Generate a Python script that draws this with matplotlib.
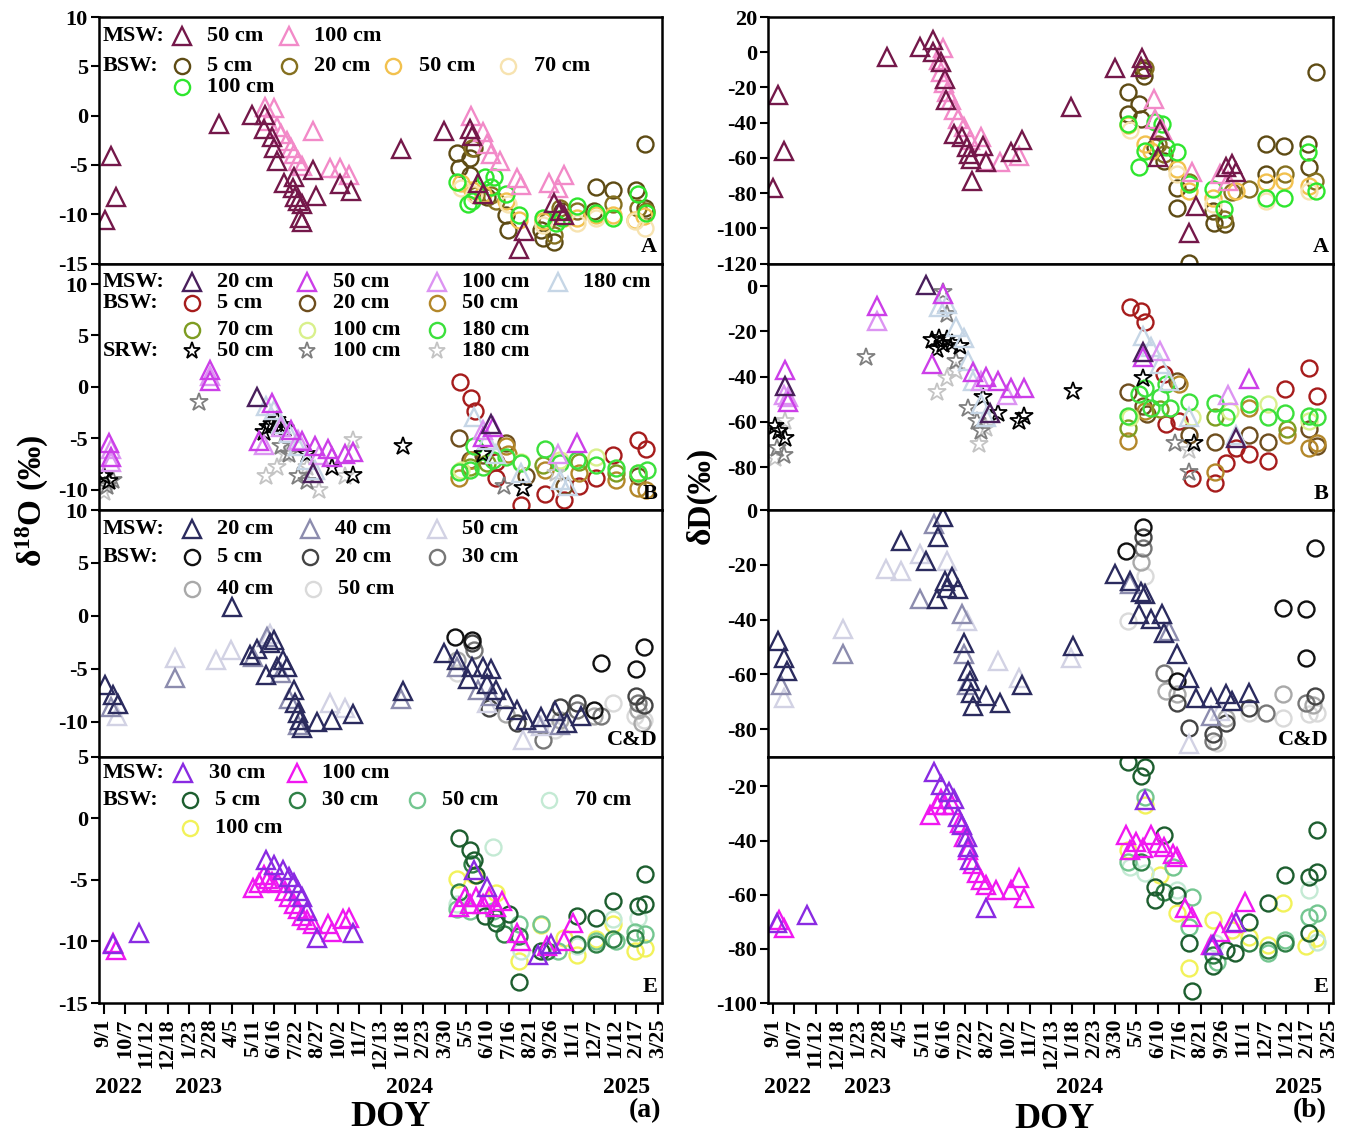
import matplotlib
matplotlib.use('Agg')
import matplotlib.pyplot as plt
import matplotlib.transforms as mtransforms
import numpy as np

plt.rcParams['font.family'] = ['Liberation Serif', 'DejaVu Serif']
plt.rcParams['font.weight'] = 'bold'
plt.rcParams['mathtext.fontset'] = 'custom'
plt.rcParams['mathtext.rm'] = 'Liberation Serif:bold'
plt.rcParams['mathtext.it'] = 'Liberation Serif:bold'
plt.rcParams['mathtext.bf'] = 'Liberation Serif:bold'

# ---------------- axis labels ----------------
tick_labels = ['9/1', '10/7', '11/12', '12/18', '1/23', '2/28', '4/5', '5/11', '6/16', '7/22',
               '8/27', '10/2', '11/7', '12/13', '1/18', '2/23', '3/30', '5/5', '6/10', '7/16',
               '8/21', '9/26', '11/1', '12/7', '1/12', '2/17', '3/25']
tick_step_days = 36          # tick spacing (days since 2022-09-01)
years = ['2022', '2023', '2024', '2025']
year_days = [25, 160, 517, 884]
panel_names = ['A', 'B', 'C&D', 'E']

# ---------------- data: (days since 2022-09-01, value) ----------------
# Panel A, d18O
a_o_msw50 = ([3, 12, 20, 194, 250, 272, 270, 284, 288, 292, 305, 322, 319, 324, 328, 335, 332, 335, 354, 358,
              400, 417, 502, 575, 618, 622, 633, 640, 702, 710, 760, 771, 778],
             [-10.6, -4.1, -8.2, -0.8, 0.1, 0.1, -1.4, -2.2, -3.3, -4.6, -6.8, -6.2, -7.3, -8.2, -8.7, -9.0, -10.4,
              -10.8, -5.5, -8.1, -6.9, -7.6, -3.4, -1.6, -1.4, -2.1, -6.8, -7.9, -13.5, -11.7, -8.9, -9.7, -10.1])
a_o_msw100 = ([272, 288, 277, 292, 299, 310, 317, 322, 328, 335, 353, 382, 400, 415, 620, 640, 647, 655, 669, 698,
               705, 753, 767, 778],
              [0.9, 0.8, -0.5, -1.2, -1.9, -2.6, -3.3, -3.9, -4.6, -5.1, -1.6, -5.3, -5.3, -6.0, 0.0, -1.7, -2.9,
               -3.9, -4.6, -6.3, -7.0, -6.8, -7.3, -6.0])
a_o_bsw5 = ([597, 600, 618, 618, 626, 647, 680, 683, 738, 742, 760, 774, 832, 860, 900, 914, 914, 829],
            [-3.8, -5.3, -6.0, -4.3, -3.3, -8.2, -10.1, -11.6, -11.6, -12.4, -12.8, -9.7, -7.2, -7.5, -7.5, -2.9,
             -9.4, -9.7])
a_o_bsw20 = ([622, 629, 655, 662, 760, 749, 771, 800, 861, 902, 916],
             [-3.3, -8.0, -8.0, -8.7, -12.1, -10.7, -9.4, -9.7, -9.0, -9.4, -9.7])
a_o_bsw50 = ([604, 622, 640, 680, 702, 742, 778, 800, 832, 861, 898, 913],
             [-6.8, -7.5, -7.9, -8.7, -10.6, -10.7, -10.4, -10.4, -10.1, -10.1, -10.6, -10.2])
a_o_bsw70 = ([604, 626, 683, 742, 800, 832, 898, 914],
             [-7.3, -7.9, -9.0, -11.1, -10.9, -10.4, -10.7, -11.4])
a_o_bsw100 = ([597, 615, 622, 644, 659, 655, 680, 702, 742, 764, 774, 800, 832, 861, 902, 916],
              [-6.7, -9.0, -8.7, -6.2, -6.2, -7.2, -7.9, -10.1, -10.4, -10.9, -10.4, -9.2, -9.9, -10.4, -7.9, -9.9])

# Panel A, dD
a_d_msw50 = ([0, 9, 18, 192, 247, 270, 270, 283, 290, 292, 304, 319, 326, 330, 333, 335, 354, 359, 401, 419,
              501, 576, 619, 621, 651, 648, 701, 712, 762, 773, 780],
             [-76.8, -24.4, -55.8, -2.5, 3.2, 7.0, 0.4, -5.3, -14.9, -27.2, -46.3, -48.2, -53.9, -57.7, -60.6,
              -73.0, -53.0, -62.5, -56.8, -50.0, -31.0, -9.1, -8.2, -3.4, -44.4, -59.6, -102.5, -87.2, -65.3,
              -63.4, -68.2])
a_d_msw100 = ([286, 279, 283, 288, 293, 299, 304, 311, 321, 331, 351, 358, 383, 415, 641, 644, 655, 705, 752, 766],
              [2.3, -4.4, -11.0, -17.7, -22.5, -27.2, -33.0, -37.7, -42.5, -50.0, -48.2, -61.5, -62.5, -58.7,
               -26.3, -37.7, -44.4, -68.2, -69.1, -73.0])
a_d_bsw5 = ([598, 598, 616, 619, 623, 625, 644, 658, 680, 681, 741, 742, 761, 701, 830, 860, 900, 914, 902, 830],
            [-22.5, -34.9, -29.1, -37.7, -10.0, -13.5, -53.9, -61.5, -76.8, -88.2, -90.1, -96.8, -97.7, -119.6,
             -52.0, -53.0, -52.0, -11.0, -65.3, -69.1])
a_d_bsw20 = ([626, 648, 658, 701, 759, 773, 802, 862, 912],
             [-9.1, -52.0, -57.7, -73.9, -94.9, -79.6, -77.7, -69.1, -73.0])
a_d_bsw50 = ([598, 626, 637, 680, 701, 741, 780, 830, 860, 902],
             [-41.5, -52.0, -55.8, -66.3, -78.7, -82.5, -78.7, -73.9, -73.0, -75.8])
a_d_bsw70 = ([601, 680, 741, 830, 902],
             [-44.4, -69.1, -86.3, -84.4, -78.7])
a_d_bsw100 = ([598, 616, 626, 644, 655, 662, 680, 701, 741, 760, 830, 860, 900, 914],
              [-40.5, -65.3, -55.8, -39.6, -40.5, -53.9, -56.8, -74.9, -77.7, -89.1, -82.5, -82.5, -56.8, -78.7])

# Panel B, d18O
b_o_msw20 = ([259, 353, 655], [-1.0, -8.4, -3.6])
b_o_msw50 = ([9, 12, 179, 179, 263, 284, 317, 335, 357, 379, 386, 408, 422, 640, 658, 800],
             [-5.5, -6.8, 1.6, 0.6, -5.3, -1.6, -4.2, -5.3, -5.8, -6.1, -6.8, -6.5, -6.3, -4.9, -3.9, -5.5])
b_o_msw100 = ([12, 12, 179, 270, 299, 328, 364, 640, 767],
              [-7.3, -6.1, 1.1, -5.7, -3.9, -5.2, -6.6, -4.2, -6.5])
b_o_msw180 = ([274, 288, 299, 313, 328, 343, 357, 626, 647, 662, 705, 771, 785],
              [-1.9, -2.3, -3.6, -4.5, -5.8, -7.1, -8.1, -2.9, -5.2, -6.5, -8.4, -9.1, -9.7])
b_o_bsw5 = ([602, 620, 627, 662, 662, 705, 745, 778, 803, 832, 861, 902, 916],
            [0.5, -1.1, -2.4, -7.3, -8.9, -11.5, -10.4, -11.0, -9.7, -8.9, -6.6, -5.2, -6.1])
b_o_bsw20 = ([600, 618, 640, 680, 713, 778, 902], [-5.0, -7.1, -6.6, -5.5, -8.7, -9.7, -8.7])
b_o_bsw50 = ([600, 622, 680, 683, 745, 803, 865, 902, 916],
             [-8.9, -7.1, -5.8, -6.5, -8.1, -8.4, -9.1, -9.9, -10.0])
b_o_bsw70 = ([618, 647, 742, 803, 865], [-7.8, -7.4, -7.6, -7.3, -8.4])
b_o_bsw100 = ([604, 705, 771, 832, 902], [-8.1, -7.3, -7.1, -6.8, -8.4])
b_o_bsw180 = ([600, 618, 626, 640, 658, 680, 705, 745, 771, 800, 832, 865, 902, 918],
              [-8.3, -8.1, -5.8, -7.8, -7.1, -6.8, -7.4, -6.1, -7.4, -7.1, -7.6, -7.9, -8.4, -8.1])
b_o_srw50 = ([1, 9, 270, 277, 284, 292, 299, 306, 343, 386, 422, 506, 640, 709],
             [-8.7, -9.2, -4.4, -3.9, -3.6, -3.2, -3.7, -4.0, -6.5, -7.8, -8.6, -5.8, -6.5, -9.9])
b_o_srw100 = ([5, 16, 161, 299, 313, 328, 343, 676], [-9.7, -9.1, -1.5, -5.8, -6.5, -8.7, -9.2, -9.7])
b_o_srw180 = ([1, 274, 292, 306, 343, 364, 422, 408, 764], [-10.2, -8.7, -7.8, -6.5, -7.8, -10.0, -5.2, -8.7, -8.4])

# Panel B, dD
b_d_msw20 = ([258, 21, 365, 623, 780], [0.3, -44, -56, -29, -67])
b_d_msw50 = ([21, 25, 175, 268, 286, 336, 358, 379, 401, 422, 623, 802],
             [-37, -51, -8.6, -34.5, -3.4, -38, -40, -42, -45, -45, -31.5, -41])
b_d_msw100 = ([18, 25, 175, 351, 394, 651, 766], [-48, -49, -15.3, -42, -48, -28.6, -48])
b_d_msw180 = ([279, 293, 308, 322, 329, 336, 351, 358, 623, 637, 651, 666, 701, 780],
              [-9.3, -7.9, -18, -22.7, -33, -42, -52, -58, -22, -27, -34.5, -42, -58, -65.6])
b_d_bsw5 = ([601, 619, 626, 659, 662, 684, 705, 744, 762, 802, 834, 862, 902, 916, 780],
            [-9.3, -10.8, -16, -39, -61, -59.7, -85, -87, -78, -74, -77.5, -45.6, -36, -48.6, -71.5])
b_d_bsw20 = ([598, 623, 630, 680, 701, 744, 802, 834, 902, 916],
             [-47, -53, -56.7, -42, -65.6, -69, -65.6, -69, -63, -70.8])
b_d_bsw50 = ([598, 626, 684, 744, 802, 866, 902, 916], [-68.6, -55, -43.4, -82, -53.8, -66, -71.5, -69.3])
b_d_bsw70 = ([598, 651, 744, 866], [-62.7, -54.5, -58, -63])
b_d_bsw100 = ([601, 705, 769, 834, 902], [-58, -58, -55, -52, -59.7])
b_d_bsw180 = ([598, 616, 626, 637, 651, 662, 669, 701, 744, 762, 802, 834, 862, 902, 916],
              [-57.5, -47.8, -45, -53.8, -49, -43.4, -53.8, -51, -51.6, -58, -52, -58, -56, -57.5, -58])
b_d_srw50 = ([4, 11, 21, 268, 279, 286, 293, 301, 315, 276, 354, 379, 415, 422, 505, 623, 709],
             [-62, -64, -67, -24, -22.7, -25.6, -23.4, -25, -26.4, -27.9, -49, -56, -59.7, -57.5, -46.4, -40.4,
              -69.3])
b_d_srw100 = ([7, 18, 157, 286, 293, 308, 329, 344, 351, 676, 701],
              [-71.6, -74.5, -31.5, -2.7, -12.3, -33, -53.8, -59.7, -64, -69.3, -82])
b_d_srw180 = ([4, 21, 276, 293, 308, 347, 358, 701], [-76, -59.7, -47, -40.4, -37.5, -70, -62.7, -72.3])

# Panel C&D, d18O
c_o_msw20 = ([3, 15, 25, 217, 248, 259, 274, 281, 288, 292, 303, 310, 321, 324, 328, 331, 335, 361, 386, 421,
              506, 575, 597, 615, 622, 640, 647, 655, 662, 680, 698, 713, 738, 763, 782, 807],
             [-6.5, -7.5, -8.3, 0.8, -3.7, -3.1, -5.6, -2.6, -2.3, -4.8, -4.2, -4.8, -7.0, -8.2, -9.2, -9.8,
              -10.6, -10.0, -9.8, -9.3, -7.1, -3.5, -4.2, -6.0, -4.8, -4.8, -6.4, -5.0, -7.0, -7.9, -8.9, -9.8,
              -9.6, -9.0, -10.1, -9.5])
c_o_msw40 = ([12, 121, 252, 276, 299, 313, 328, 502, 597, 633, 655, 734, 771],
             [-8.6, -5.9, -3.9, -2.0, -5.4, -7.9, -10.3, -7.9, -4.8, -7.0, -7.6, -10.1, -10.3])
c_o_msw50 = ([23, 121, 190, 215, 281, 383, 408, 647, 709, 738],
             [-9.5, -4.0, -4.2, -3.2, -1.7, -8.2, -8.7, -8.2, -11.7, -10.4])
c_o_bsw5 = ([593, 622, 840, 899, 912, 829], [-2.0, -2.3, -4.5, -5.0, -2.9, -8.9])
c_o_bsw20 = ([622, 651, 698, 771, 800, 899, 912], [-2.6, -8.7, -10.1, -8.6, -8.2, -7.6, -8.4])
c_o_bsw30 = ([626, 742, 800, 840, 902], [-3.2, -11.7, -8.9, -9.5, -8.2])
c_o_bsw40 = ([597, 680, 771, 829, 902, 909], [-4.2, -9.3, -9.8, -9.5, -8.9, -10.1])
c_o_bsw50 = ([597, 763, 800, 861, 898, 912], [-5.4, -10.8, -8.2, -8.2, -9.5, -9.8])

# Panel C&D, dD
c_d_msw20 = ([9, 18, 23, 215, 258, 276, 278, 286, 290, 293, 301, 311, 322, 328, 331, 333, 336, 358, 383, 419,
              505, 576, 601, 619, 626, 616, 637, 655, 658, 680, 701, 712, 737, 762, 773, 802],
             [-47.8, -53.9, -58.8, -11.2, -18.5, -32.6, -10, -2.7, -25.9, -28.3, -24.6, -28.9, -48.4, -58.8,
              -62.4, -66.7, -71.6, -67.9, -70.4, -63.7, -49.6, -23.4, -25.9, -30.1, -30.7, -38, -39.9, -38,
              -44.8, -52.7, -61.2, -68.5, -68.5, -67.3, -69.8, -66.7])
c_d_msw40 = ([14, 118, 247, 272, 319, 322, 326, 601, 666, 737],
             [-63.7, -52.7, -32.6, -5.1, -38, -52.7, -63.7, -27.1, -44.1, -75.2])
c_d_msw50 = ([18, 118, 190, 215, 247, 293, 326, 379, 415, 501, 701, 752],
             [-68.5, -43.5, -21.6, -22.2, -16.1, -18.5, -40.5, -55.1, -61.2, -53.9, -85.6, -73.4])
c_d_bsw5 = ([594, 623, 859, 898, 913, 898, 680], [-14.9, -6.3, -35.6, -36.2, -13.7, -53.9, -62.4])
c_d_bsw20 = ([623, 680, 701, 741, 762, 802, 913], [-10, -70.4, -79.5, -81.9, -77.7, -72.2, -67.9])
c_d_bsw30 = ([623, 658, 741, 830, 898], [-13.7, -59.4, -84.4, -74, -70.4])
c_d_bsw40 = ([619, 662, 680, 762, 859, 909], [-19.1, -66.1, -67.3, -75.8, -67.3, -71])
c_d_bsw50 = ([598, 626, 748, 802, 859, 902, 916], [-40.5, -24, -85, -74, -75.8, -74.6, -74])

# Panel E, d18O
e_o_msw30 = ([16, 60, 274, 288, 303, 313, 321, 328, 335, 343, 361, 422, 626, 647, 734, 756],
             [-10.2, -9.3, -3.4, -3.8, -4.2, -4.8, -5.3, -5.9, -6.4, -7.5, -9.7, -9.3, -4.2, -5.6, -11.1, -10.2])
e_o_msw100 = ([20, 16, 252, 263, 270, 277, 284, 295, 306, 313, 321, 328, 335, 343, 353, 379, 386, 404, 415, 600,
               611, 618, 629, 640, 651, 662, 673, 698, 705, 749, 778, 793],
              [-10.7, -10.1, -5.7, -5.3, -4.6, -4.9, -5.2, -5.3, -5.9, -6.4, -7.0, -7.4, -7.9, -8.3, -8.6, -8.6,
               -9.2, -8.2, -8.1, -7.2, -6.4, -7.0, -6.4, -7.0, -6.4, -7.2, -6.7, -9.3, -10.0, -10.4, -10.0, -8.5])
e_o_bsw5 = ([600, 618, 626, 629, 644, 662, 684, 702, 738, 800, 832, 861, 902, 914, 914],
            [-1.6, -2.6, -3.4, -4.6, -7.9, -8.5, -7.8, -13.3, -10.8, -7.9, -8.1, -6.7, -7.1, -7.0, -4.5])
e_o_bsw30 = ([600, 622, 662, 676, 702, 749, 800, 832, 861, 898],
             [-6.0, -3.7, -8.1, -9.4, -9.6, -10.8, -10.2, -10.2, -9.8, -9.7])
e_o_bsw50 = ([597, 618, 658, 702, 738, 767, 832, 865, 898, 914],
             [-7.4, -7.5, -7.5, -8.6, -8.6, -10.8, -10.0, -10.0, -9.2, -9.4])
e_o_bsw70 = ([597, 658, 705, 800, 861, 902], [-7.0, -2.3, -10.8, -10.4, -8.2, -8.1])
e_o_bsw100 = ([597, 626, 662, 702, 738, 778, 800, 832, 861, 898, 914],
              [-4.9, -4.6, -6.1, -11.6, -8.7, -9.7, -11.1, -9.8, -8.6, -10.8, -10.5])

# Panel E, dD
e_d_msw30 = ([7, 57, 272, 283, 297, 304, 311, 319, 326, 329, 331, 358, 626, 780, 741],
             [-70.6, -67.5, -14.7, -19.6, -22.1, -24.5, -31.3, -34.4, -38.7, -42.3, -47.2, -65, -25.2, -70, -78.5])
e_d_msw100 = ([11, 18, 265, 276, 283, 290, 301, 315, 322, 329, 336, 344, 351, 358, 376, 401, 415, 422, 594, 601,
               612, 623, 637, 648, 659, 673, 680, 694, 705, 737, 752, 773, 795],
              [-69.3, -72.4, -30.7, -27, -24.5, -27, -27, -33.7, -38.7, -43.6, -48.5, -52.1, -54.6, -56.4, -58.3,
               -58.3, -54, -61.4, -38, -43.6, -40.5, -42.9, -38, -41.1, -42.3, -44.8, -46, -65, -68.1, -78.5,
               -73.6, -70.6, -62.6])
e_d_bsw5 = ([598, 619, 626, 644, 644, 658, 680, 701, 705, 741, 762, 777, 802, 834, 862, 902, 916, 916, 902],
            [-11, -16, -12.9, -57, -62, -38, -60.1, -77.9, -95.7, -86.5, -80.4, -81.6, -69.9, -63.2, -52.8, -53.4,
             -51.5, -36.2, -74.2])
e_d_bsw30 = ([619, 658, 741, 802, 834, 862], [-47.9, -58.9, -82.2, -77.9, -80.4, -77.9])
e_d_bsw50 = ([598, 626, 673, 705, 701, 748, 834, 862, 902, 916],
             [-47.9, -23.9, -49.7, -60.7, -71.8, -84.7, -81.6, -76.7, -68.1, -66.9])
e_d_bsw70 = ([601, 626, 680, 744, 902, 916], [-49.7, -52.1, -58.3, -77.9, -58.3, -77.3])
e_d_bsw100 = ([598, 626, 651, 680, 701, 741, 773, 802, 834, 859, 898, 914],
              [-43.6, -27, -52.8, -66.9, -87.1, -69.3, -73, -75.5, -78.5, -63.2, -79.1, -76.1])

# ---------------- series styles ----------------
TRI, CIR, STAR = '^', 'o', '*'
# panel -> list of (key, marker, color, label)
styles = {
    'A': [('bsw5', CIR, '#5E4B14', '5 cm'), ('bsw20', CIR, '#857020', '20 cm'),
          ('bsw50', CIR, '#F2C14E', '50 cm'), ('bsw70', CIR, '#F7E3B0', '70 cm'),
          ('bsw100', CIR, '#2EE62E', '100 cm'),
          ('msw100', TRI, '#F28AC8', '100 cm'), ('msw50', TRI, '#74184A', '50 cm')],
    'B': [('bsw5', CIR, '#A61C1C', '5 cm'), ('bsw20', CIR, '#6E4E1E', '20 cm'),
          ('bsw50', CIR, '#B3872A', '50 cm'), ('bsw70', CIR, '#7E9C22', '70 cm'),
          ('bsw100', CIR, '#D9F08C', '100 cm'), ('bsw180', CIR, '#3CE03C', '180 cm'),
          ('srw180', STAR, '#C4C4C4', '180 cm'), ('srw100', STAR, '#7F7F7F', '100 cm'),
          ('srw50', STAR, '#000000', '50 cm'),
          ('msw180', TRI, '#C6D6E6', '180 cm'), ('msw100', TRI, '#DC94F2', '100 cm'),
          ('msw50', TRI, '#CC3FE8', '50 cm'), ('msw20', TRI, '#4A1F5C', '20 cm')],
    'C&D': [('bsw50', CIR, '#DADADA', '50 cm'), ('bsw40', CIR, '#A9A9A9', '40 cm'),
            ('bsw30', CIR, '#777777', '30 cm'), ('bsw20', CIR, '#444444', '20 cm'),
            ('bsw5', CIR, '#111111', '5 cm'),
            ('msw50', TRI, '#D2D2E4', '50 cm'), ('msw40', TRI, '#8C8CAE', '40 cm'),
            ('msw20', TRI, '#2B2B5E', '20 cm')],
    'E': [('bsw100', CIR, '#F2F25A', '100 cm'), ('bsw70', CIR, '#C4EAD4', '70 cm'),
          ('bsw50', CIR, '#74C690', '50 cm'), ('bsw30', CIR, '#2F8046', '30 cm'),
          ('bsw5', CIR, '#1D5E2F', '5 cm'),
          ('msw100', TRI, '#F018F0', '100 cm'), ('msw30', TRI, '#8A2BE2', '30 cm')],
}
g = globals()
prefix = {'A': 'a', 'B': 'b', 'C&D': 'c', 'E': 'e'}

# legend layout (axes fractions) per panel: rows of (y, header, [(x, key)])
legend_layout = {
    'A': [(0.925, 'MSW:', [(0.147, 'msw50'), (0.337, 'msw100')]),
          (0.80, 'BSW:', [(0.147, 'bsw5'), (0.337, 'bsw20'), (0.523, 'bsw50'), (0.727, 'bsw70')]),
          (0.715, '', [(0.147, 'bsw100')])],
    'B': [(0.925, 'MSW:', [(0.165, 'msw20'), (0.37, 'msw50'), (0.60, 'msw100'), (0.815, 'msw180')]),
          (0.84, 'BSW:', [(0.165, 'bsw5'), (0.37, 'bsw20'), (0.60, 'bsw50')]),
          (0.73, '', [(0.165, 'bsw70'), (0.37, 'bsw100'), (0.60, 'bsw180')]),
          (0.645, 'SRW:', [(0.165, 'srw50'), (0.37, 'srw100'), (0.60, 'srw180')])],
    'C&D': [(0.925, 'MSW:', [(0.165, 'msw20'), (0.375, 'msw40'), (0.60, 'msw50')]),
            (0.81, 'BSW:', [(0.165, 'bsw5'), (0.375, 'bsw20'), (0.60, 'bsw30')]),
            (0.68, '', [(0.165, 'bsw40'), (0.38, 'bsw50')])],
    'E': [(0.935, 'MSW:', [(0.15, 'msw30'), (0.352, 'msw100')]),
          (0.825, 'BSW:', [(0.162, 'bsw5'), (0.352, 'bsw30'), (0.565, 'bsw50'), (0.80, 'bsw70')]),
          (0.71, '', [(0.162, 'bsw100')])],
}

ylims_o = {'A': (-15, 10), 'B': (-12, 12), 'C&D': (-13.3, 10), 'E': (-15, 5)}
yticks_o = {'A': [-15, -10, -5, 0, 5, 10], 'B': [-10, -5, 0, 5, 10], 'C&D': [-10, -5, 0, 5, 10],
            'E': [-15, -10, -5, 0, 5]}
ylims_d = {'A': (-120, 20), 'B': (-99, 10), 'C&D': (-90, 0), 'E': (-100, -9)}
yticks_d = {'A': [-120, -100, -80, -60, -40, -20, 0, 20], 'B': [-80, -60, -40, -20, 0],
            'C&D': [-80, -60, -40, -20, 0], 'E': [-100, -80, -60, -40, -20]}

msize = {TRI: 13, CIR: 11.5, STAR: 13.5}
mew = {TRI: 1.7, CIR: 1.7, STAR: 1.3}

fig = plt.figure(figsize=(13.5, 11.38), dpi=100)
col_left = [0.0733, 0.569]
col_width = [0.417, 0.4185]
row_h = 0.2166
bottoms = [0.7684, 0.5518, 0.3352, 0.1186]

xlim = (-8, 943)
tick_pos = np.arange(len(tick_labels)) * tick_step_days

for ci, iso in enumerate(['o', 'd']):
    for ri, pname in enumerate(panel_names):
        ax = fig.add_axes([col_left[ci], bottoms[ri], col_width[ci], row_h])
        for key, mk, col, lab in styles[pname]:
            name = f"{prefix[pname]}_{iso}_{key}"
            if name not in g:
                continue
            xs, ys = g[name]
            ax.plot(xs, ys, linestyle='none', marker=mk, ms=msize[mk], mfc='none', mec=col, mew=mew[mk])
        ax.set_xlim(*xlim)
        if iso == 'o':
            ax.set_ylim(*ylims_o[pname])
            ax.set_yticks(yticks_o[pname])
        else:
            ax.set_ylim(*ylims_d[pname])
            ax.set_yticks(yticks_d[pname])
        ax.tick_params(axis='y', direction='out', length=6, width=1.5, labelsize=16, pad=2)
        for s in ax.spines.values():
            s.set_linewidth(1.8)
        ax.set_yticklabels([str(t) for t in ax.get_yticks().astype(int)], fontweight='bold')
        if ri == 3:
            ax.set_xticks(tick_pos)
            ax.set_xticklabels(tick_labels, rotation=90, fontsize=16, fontweight='bold')
            ax.tick_params(axis='x', direction='out', length=8, width=1.5, pad=3)
            trans = mtransforms.blended_transform_factory(ax.transData, fig.transFigure)
            for yl, yd in zip(years, year_days):
                ax.text(yd, 0.044, yl, transform=trans, ha='center', va='center', fontsize=17,
                        fontweight='bold')
        else:
            ax.set_xticks([])
        ax.text(0.992, 0.025, pname, transform=ax.transAxes, ha='right', va='bottom', fontsize=16,
                fontweight='bold')
        # legend (only in left column)
        if iso == 'o':
            sty = {k: (m, c, l) for k, m, c, l in styles[pname]}
            for yf, header, entries in legend_layout[pname]:
                if header:
                    ax.text(0.007, yf, header, transform=ax.transAxes, ha='left', va='center', fontsize=16,
                            fontweight='bold')
                for xf, key in entries:
                    mk, col, lab = sty[key]
                    ax.plot([xf], [yf], transform=ax.transAxes, linestyle='none', marker=mk,
                            ms=msize[mk] * 0.95, mfc='none', mec=col, mew=mew[mk], clip_on=False)
                    ax.text(xf + 0.045, yf, lab, transform=ax.transAxes, ha='left', va='center',
                            fontsize=16, fontweight='bold')

fig.text(0.024, 0.56, r'δ$^{18}$O (‰)', rotation=90, ha='center', va='center', fontsize=24, fontweight='bold')
fig.text(0.519, 0.565, 'δD(‰)', rotation=90, ha='center', va='center', fontsize=24, fontweight='bold')
fig.text(0.289, 0.018, 'DOY', ha='center', va='center', fontsize=26, fontweight='bold')
fig.text(0.781, 0.016, 'DOY', ha='center', va='center', fontsize=26, fontweight='bold')
fig.text(0.478, 0.024, '(a)', ha='center', va='center', fontsize=20, fontweight='bold')
fig.text(0.970, 0.024, '(b)', ha='center', va='center', fontsize=20, fontweight='bold')

fig.savefig('out.png', dpi=100)
